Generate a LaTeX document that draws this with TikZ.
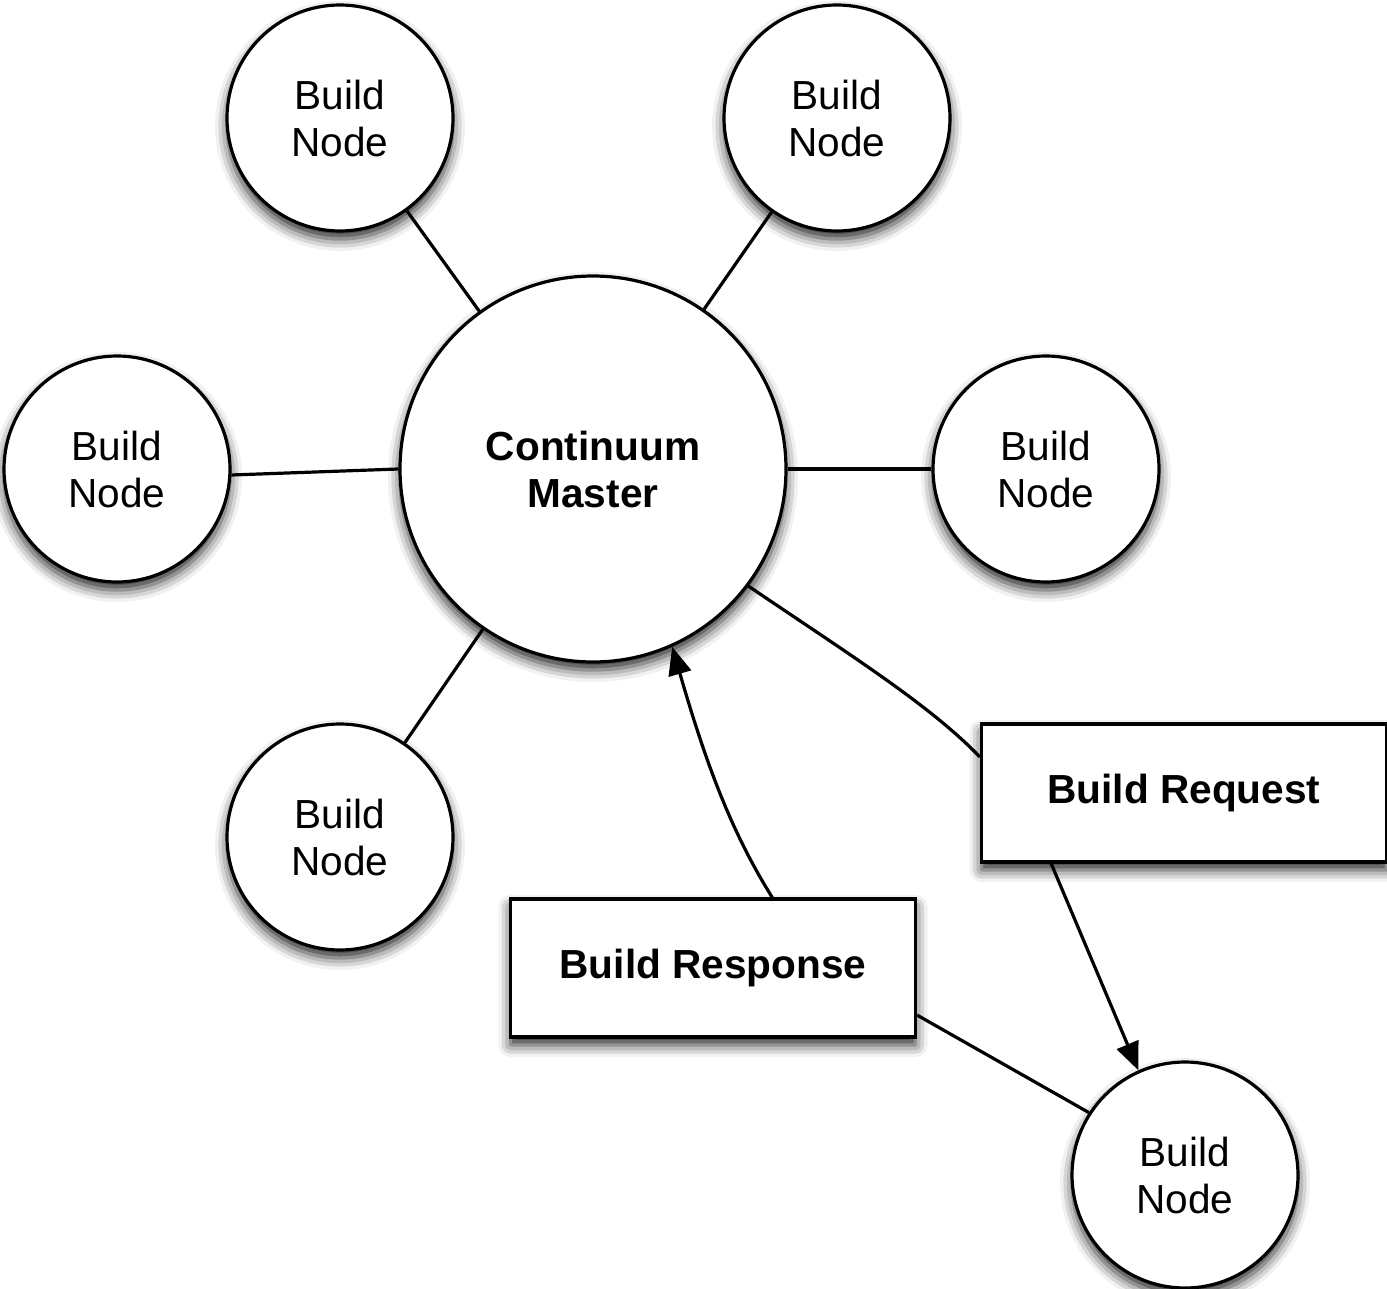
\documentclass[tikz,border=0pt]{standalone}
\usepackage{fontspec}
\setmainfont{Liberation Sans}
\usetikzlibrary{arrows.meta,shadows.blur}

\begin{document}
\begin{tikzpicture}[
x = 0.5pt, y = -0.5pt,
line width = 1.6pt,
softshadow/.style = {blur shadow={shadow xshift=0pt, shadow yshift=-4pt, shadow blur radius=6pt, shadow opacity=85}},
buildnode/.style = {circle, draw=black, fill=white, softshadow, minimum size=113pt, inner sep=0pt, align=center, font=\fontsize{20.3}{23.5}\selectfont},
master/.style = {buildnode, minimum size=193pt, font=\fontsize{20.3}{23.5}\selectfont\bfseries},
message/.style = {rectangle, draw=black, fill=white, softshadow, minimum width=202.5pt, minimum height=69pt, font=\fontsize{20.3}{23.5}\selectfont\bfseries},
tip/.style = {-{Triangle[length=14pt,width=11.5pt]}},
]
\useasboundingbox (0,0) rectangle (1387,1289);
\node [master] (m) at (593,469) {Continuum\\Master};
\node [buildnode] (n1) at (340,118) {Build\\Node};
\node [buildnode] (n2) at (837,118) {Build\\Node};
\node [buildnode] (n3) at (117,469) {Build\\Node};
\node [buildnode] (n4) at (1046,469) {Build\\Node};
\node [buildnode] (n5) at (340,837) {Build\\Node};
\node [buildnode] (n6) at (1185,1175) {Build\\Node};
\node [message] (req) at (1184,793) {Build Request};
\node [message] (resp) at (713,968) {Build Response};
\draw (n1) -- (m);
\draw (n2) -- (m);
\draw (n3.-3.5) -- (m.180.9);
\draw (m) -- (n4);
\draw (n5) -- (m);
\draw (m.-37.6) .. controls (850,655) and (930,705) .. (req.170);
\draw [tip] (req.208.5) -- (n6.114);
\draw [tip] (resp.50.8) .. controls (730,830) and (705,760) .. (m.-66.2);
\draw (resp.-13.6) -- (n6.147);

\end{tikzpicture}
\end{document}
